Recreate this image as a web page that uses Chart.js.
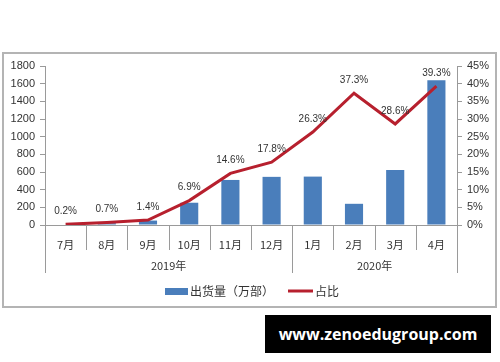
<!DOCTYPE html>
<html>
<head>
<meta charset="utf-8">
<script src="https://cdn.jsdelivr.net/npm/chart.js@4/dist/chart.umd.min.js"></script>
<style>
  html, body { margin: 0; padding: 0; background: #fff; }
  #wrap { position: relative; width: 500px; height: 362px; }
  #frame { position: absolute; left: 2px; top: 52px; width: 491px; height: 252px; border: 2px solid #b4b4b4; }
  #chart { position: absolute; left: 0; top: 0; }
  #stamp { position: absolute; left: 265px; top: 315px; width: 226px; height: 38px; background: #000;
    color: #fff; font: 700 16px "Open Sans", sans-serif; line-height: 38px; text-align: center; }
</style>
</head>
<body>
<div id="wrap">
  <div id="frame"></div>
  <canvas id="chart" width="500" height="362"></canvas>
  <div id="stamp">www.zenoedugroup.com</div>
</div>
<script>
// Months shown on the x axis, grouped by year underneath.
var months = ['7月', '8月', '9月', '10月', '11月', '12月', '1月', '2月', '3月', '4月'];
var yearGroups = [
  { label: '2019年', from: 0, to: 5 },
  { label: '2020年', from: 6, to: 9 },
];

// Shipments (10k units) and share (%).
var shipments = [6, 21, 50, 252, 510, 545, 548, 240, 622, 1640];
var share = [0.2, 0.7, 1.4, 6.9, 14.6, 17.8, 26.3, 37.3, 28.6, 39.3];

var leftTicks = [0, 200, 400, 600, 800, 1000, 1200, 1400, 1600, 1800];
var rightTicks = [0, 5, 10, 15, 20, 25, 30, 35, 40, 45];

var barColor = '#4a7ebb';
var lineColor = '#b7202e';
var textColor = '#333';
var axisColor = '#9a9a9a';
var cjkFont = '"Noto Sans CJK SC", "Liberation Sans", sans-serif';

// Draws the category separators, year row, line value labels and legend.
var decorPlugin = {
  id: 'decor',
  afterDraw: function (chart) {
    var ctx = chart.ctx;
    var x = chart.scales.x;
    var area = chart.chartArea;
    var half = (x.getPixelForValue(1) - x.getPixelForValue(0)) / 2;

    ctx.save();
    ctx.strokeStyle = axisColor;
    ctx.lineWidth = 1;

    // Short separators between months.
    for (var i = 0; i <= months.length; i++) {
      var px = Math.round(x.getPixelForValue(i) - half) + 0.5;
      var isGroupEdge = yearGroups.some(function (g) {
        return g.from === i || g.to + 1 === i;
      });
      ctx.beginPath();
      ctx.moveTo(px, area.bottom);
      ctx.lineTo(px, isGroupEdge ? area.bottom + 48 : area.bottom + 25);
      ctx.stroke();
    }

    // Year labels.
    ctx.fillStyle = textColor;
    ctx.font = '11px ' + cjkFont;
    ctx.textAlign = 'center';
    ctx.textBaseline = 'middle';
    yearGroups.forEach(function (g) {
      var left = x.getPixelForValue(g.from) - half;
      var right = x.getPixelForValue(g.to) + half;
      ctx.fillText(g.label, (left + right) / 2, area.bottom + 41);
    });

    // Value labels above the share line.
    var meta = chart.getDatasetMeta(1);
    ctx.font = '10px "Liberation Sans", sans-serif';
    meta.data.forEach(function (pt, idx) {
      ctx.fillText(share[idx].toFixed(1) + '%', pt.x, pt.y - 13);
    });

    // Legend.
    var ly = area.bottom + 66;
    ctx.fillStyle = barColor;
    ctx.fillRect(165, ly - 3, 23, 7);
    ctx.fillStyle = textColor;
    ctx.font = '12px ' + cjkFont;
    ctx.textAlign = 'left';
    ctx.fillText(chart.data.datasets[0].label, 190, ly);
    ctx.strokeStyle = lineColor;
    ctx.lineWidth = 3;
    ctx.beginPath();
    ctx.moveTo(288, ly);
    ctx.lineTo(313, ly);
    ctx.stroke();
    ctx.fillText(chart.data.datasets[1].label, 315, ly);
    ctx.restore();
  },
};

new Chart(document.getElementById('chart'), {
  type: 'bar',
  data: {
    labels: months,
    datasets: [
      {
        label: '出货量（万部）',
        data: shipments,
        backgroundColor: barColor,
        yAxisID: 'y',
        categoryPercentage: 1,
        barPercentage: 0.44,
        order: 2,
      },
      {
        label: '占比',
        type: 'line',
        data: share,
        borderColor: lineColor,
        borderWidth: 3,
        pointRadius: 0,
        tension: 0,
        yAxisID: 'y1',
        order: 1,
      },
    ],
  },
  options: {
    responsive: false,
    animation: false,
    layout: { padding: { top: 66, left: 0, right: 0, bottom: 0 } },
    plugins: { legend: { display: false }, tooltip: { enabled: false } },
    scales: {
      x: {
        grid: { display: false },
        border: { display: true, color: axisColor },
        ticks: { color: textColor, font: { size: 11, family: cjkFont }, padding: 5, maxRotation: 0 },
        afterFit: function (scale) { scale.height = 137; },
      },
      y: {
        position: 'left',
        min: 0,
        max: 1800,
        afterBuildTicks: function (scale) {
          scale.ticks = leftTicks.map(function (v) { return { value: v }; });
        },
        grid: { drawOnChartArea: false, tickLength: 5, color: axisColor },
        border: { color: axisColor },
        ticks: {
          color: textColor,
          font: { size: 11, family: '"Liberation Sans", sans-serif' },
          padding: 5,
          callback: function (v) { return String(v); },
        },
        afterFit: function (scale) { scale.width = 45; },
      },
      y1: {
        position: 'right',
        min: 0,
        max: 45,
        afterBuildTicks: function (scale) {
          scale.ticks = rightTicks.map(function (v) { return { value: v }; });
        },
        grid: { drawOnChartArea: false, tickLength: 5, color: axisColor },
        border: { color: axisColor },
        ticks: {
          color: textColor,
          font: { size: 11, family: '"Liberation Sans", sans-serif' },
          padding: 5,
          callback: function (v) { return v + '%'; },
        },
        afterFit: function (scale) { scale.width = 43; },
      },
    },
  },
  plugins: [decorPlugin],
});
</script>
</body>
</html>
